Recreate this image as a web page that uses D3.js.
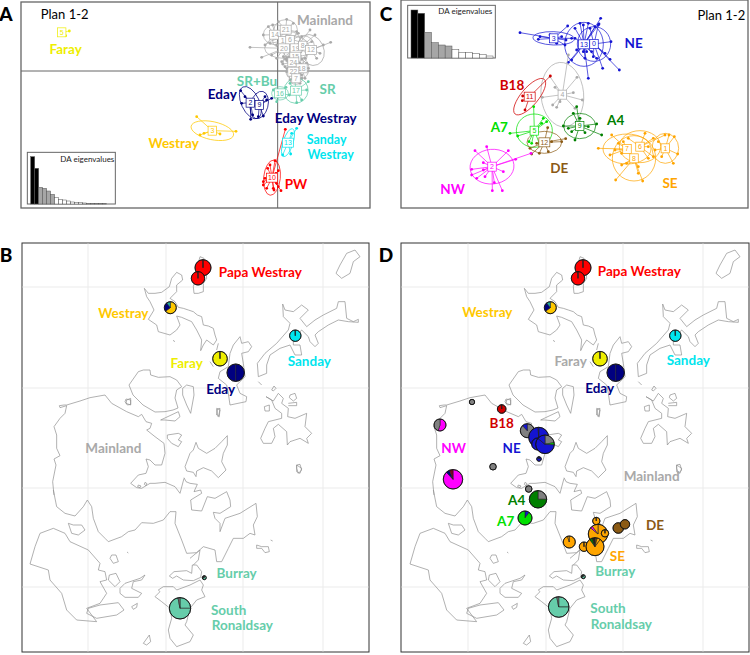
<!DOCTYPE html>
<html><head><meta charset="utf-8">
<script src="https://cdn.jsdelivr.net/npm/d3@7"></script>
<style>html,body{margin:0;padding:0;background:#fff}svg{display:block}text{font-family:Lato,"Open Sans",sans-serif}</style>
</head><body><svg id="c" width="750" height="655"></svg>
<script>
const NAVY="#000080",GOLD="#FFC800",YEL="#EEEE00",CY="#00E5EE",TEAL="#66CDAA",RED="#FF0000",GREY="#A9A9A9",BLUE="#1414D2",DRED="#D00000",LIME="#00E000",GRN="#008000",BRN="#8B5A14",MAG="#FF00FF",ORG="#FFA500",PGREY="#808080";

// ---- DA scatter A: cluster table [name, colour, cx, cy, rx, ry, rotation]
const clustersA=[
["5",YEL,185,97,12,10,0],["14",GREY,825,104,35,30,0],["21",GREY,857,89,35,30,0],["1",GREY,848,123,30,22,0],["6",GREY,870,120,30,25,0],
["20",GREY,852,145,58,30,0],["19",GREY,887,145,40,35,0],["8",GREY,908,137,35,30,0],["12",GREY,933,150,38,48,-25],["15",GREY,886,170,35,25,0],
["24",GREY,880,187,30,30,0],["18",GREY,905,205,22,30,0],["22",GREY,880,215,22,22,0],["7",GREY,888,235,20,18,0],
["16",TEAL,840,280,25,20,0],["17",TEAL,888,272,36,38,25],["2",NAVY,751,308,27,52,-25],["9",NAVY,778,315,26,42,15],
["3",GOLD,637,392,65,27,12],["13",CY,864,428,15,44,18],["10",RED,816,533,25,53,6]];
const pointsA=[
[[208,93],[197,107],[190,97]],
[[805,80],[790,105],[795,135],[818,75]],[[835,65],[860,58],[880,70],[890,95]],[[810,130],[830,135],[868,110]],[[895,100],[880,115]],
[[750,142],[785,172],[815,165],[830,175]],[[905,110],[930,90],[845,185],[860,175]],[[945,105],[935,125],[960,160]],[[992,127],[970,135],[950,175],[915,175]],[[870,195],[900,190],[850,170],[862,182],[905,178]],
[[855,200],[905,225],[880,165],[870,210],[848,192],[858,178],[893,200],[868,172]],[[920,190],[895,210],[915,235],[860,215],[912,200],[925,205],[902,195]],[[875,205],[905,215],[868,225],[862,205],[890,222]],[[900,250],[870,240],[905,235]],
[[820,270],[858,262],[830,305],[868,285]],[[925,245],[905,300],[890,308],[920,270],[870,250],[885,245]],
[[722,272],[758,345],[752,358],[735,290],[725,310]],[[815,295],[790,348],[800,300],[775,350],[795,290]],
[[590,350],[600,405],[612,400],[660,402],[708,394]],[[890,385],[875,400],[858,435],[872,462],[848,465]],
[[856,388],[825,482],[803,505],[810,495],[795,535],[790,545],[800,565],[822,570],[843,572],[830,550],[835,560],[835,512],[790,555],[820,565],[828,520]]];

// ---- DA scatter C
const clustersC=[
["3",BLUE,536,115,62,20,2],["13",BLUE,627,133,58,66,0],["0",BLUE,657,132,50,52,0],["4",GREY,562,284,64,97,-5],["11",DRED,464,290,26,68,40],
["5",LIME,478,392,54,50,0],["12",BRN,508,427,52,33,0],["9",GRN,614,378,48,38,0],["2",MAG,351,500,66,52,-5],
["7",ORG,756,447,72,45,0],["6",ORG,795,440,62,48,0],["8",ORG,777,475,65,68,0],["1",ORG,871,445,40,45,0]];
const pointsC=[
[[435,98],[490,118],[525,105],[560,110],[573,120],[578,78],[545,130],[590,115],[570,135],[495,110]],
[[615,70],[640,70],[660,80],[677,55],[672,72],[625,75],[600,85],[590,180],[605,150],[630,175],[640,235],[625,155],[635,155],[650,155],[665,175],[580,187],[600,115]],
[[733,210],[705,178],[683,205],[708,125],[670,75],[645,85],[655,170],[690,160]],
[[580,165],[606,232],[540,262],[502,292],[595,278],[533,315],[545,322],[555,305],[622,300],[600,325],[525,230]],
[[526,228],[443,288],[442,302],[450,330]],
[[476,320],[505,355],[500,370],[405,400],[428,408],[470,430],[493,430],[515,365],[462,425]],
[[518,383],[465,445],[470,462],[572,416],[560,425],[520,455],[485,430],[530,425],[493,460]],
[[605,320],[565,378],[595,340],[590,395],[600,420],[665,372],[680,405],[640,380],[580,385],[615,355],[630,398]],
[[335,440],[300,452],[400,452],[422,478],[468,460],[385,515],[325,488],[290,508],[290,525],[305,535],[358,548],[352,572],[382,572],[325,510],[330,530]],
[[670,445],[710,405],[745,425],[705,465],[720,450],[740,460],[730,430]],
[[810,400],[835,415],[820,440],[760,415],[870,405],[835,470],[820,475]],
[[722,540],[803,543],[790,520],[790,500],[740,495],[755,490]],
[[882,405],[898,410],[908,462],[895,490],[860,470],[840,450],[850,425]]];

// ---- DA eigenvalues
const eigA=[142,107,50,47,39,29,20,14,12,9,6,4,4,3,2,1,1,1,1];
const eigC=[144,134,77,46,39,36,26,17,17,14,11,6];

// ---- coastline polylines, one list per traced map sheet
const coastN=[
[[433,175],[445,190],[465,190],[485,187],[508,170],[515,145],[530,127],[545,135],[548,150],[530,165],[530,185],[510,205],[525,215],[535,232],[550,235],[565,240],[580,245],[592,255],[605,260],[610,285],[625,288],[640,295],[645,315],[650,330],[640,345],[620,330],[610,345],[602,362],[605,330],[590,300],[575,275],[545,262],[530,258],[540,285],[530,300],[510,315],[475,305],[470,285],[445,268],[462,240],[450,215],[440,200],[433,175]],
[[600,80],[612,85],[618,125],[620,145],[610,160],[610,185],[595,190],[582,190],[580,170],[585,150],[590,120],[600,80]],
[[848,222],[855,240],[880,245],[905,225],[925,240],[900,265],[920,290],[945,270],[970,255],[1010,235],[1015,215],[1035,215],[1040,265],[1060,275],[1075,268],[1075,277],[1045,275],[1015,270],[985,285],[955,305],[945,315],[955,340],[945,350],[930,335],[925,320],[905,300],[880,330],[880,345],[900,345],[905,375],[885,375],[870,345],[840,355],[810,375],[800,405],[800,430],[775,440],[772,400],[795,370],[830,340],[865,300],[870,280],[850,260],[848,222]],
[[720,320],[725,340],[745,335],[755,350],[745,365],[725,370],[730,400],[735,440],[710,465],[720,490],[740,500],[738,515],[690,525],[685,490],[680,465],[655,445],[660,425],[685,410],[690,370],[700,345],[720,320]],
[[415,425],[430,420],[450,420],[452,435],[475,442],[510,440],[530,450],[545,470],[530,480],[525,504],[534,534],[519,540],[495,545],[465,546],[429,525],[399,495],[387,465],[415,425]],
[[380,510],[392,505],[392,525],[378,520],[380,510]],
[[1040,70],[1065,60],[1080,80],[1060,95],[1050,130],[1025,145],[1008,130],[1020,105],[1040,70]],
[[650,535],[660,540],[655,560],[650,555],[650,535]],[[655,340],[650,360]],[[630,395],[640,410]],[[775,455],[785,465]],[[520,330],[524,336]]];
const coastW=[
[[42,330],[38,290],[48,240],[42,222],[60,212],[50,190],[50,150],[42,125],[60,100],[75,85],[80,62],[60,68],[58,62],[72,60],[80,60],[120,48],[150,38],[195,30],[215,55],[260,80],[295,95],[305,88],[318,110],[335,115],[330,130],[320,135],[345,155],[372,175],[375,205],[365,240],[345,240],[330,225],[318,222],[325,245],[318,265],[295,270],[272,295],[290,308],[305,310],[330,295],[345,295],[375,292],[405,305],[420,325],[432,280]],
[[258,42],[272,45],[272,58],[262,60],[255,50],[258,42]],
[[362,105],[415,80],[420,95],[405,108],[375,105],[362,105]],
[[382,150],[415,145],[425,150],[415,165],[425,170],[415,185],[395,175],[382,160],[382,150]],
[[295,300],[303,303],[300,308],[293,305],[295,300]],[[315,292],[321,296],[318,302],[313,298],[315,292]]];
const coastE=[
[[78,172],[85,190],[110,205],[135,190],[155,170],[172,152],[172,180],[160,205],[155,230],[168,255],[145,278],[125,258],[100,248],[80,258],[78,275],[70,262],[50,258],[45,245],[60,205],[70,195],[78,172]],
[[288,35],[310,48],[325,25],[340,40],[335,55],[355,70],[353,95],[375,100],[410,85],[405,125],[425,145],[410,160],[415,175],[390,160],[360,170],[352,180],[350,140],[325,118],[310,130],[315,155],[305,175],[280,175],[272,160],[285,130],[295,110],[335,100],[335,85],[315,70],[305,45],[288,35]],
[[283,65],[298,60],[298,78],[285,78],[283,65]],[[360,30],[375,25],[380,40],[370,48],[358,38],[360,30]],[[355,55],[380,52],[380,62],[355,62]],
[[380,240],[390,238],[395,255],[385,265],[380,250],[380,240]],[[305,15],[312,3],[318,10],[310,18],[305,15]],
[[38,10],[50,0],[70,5],[72,30],[62,85],[50,60],[38,30],[38,10]],[[142,72],[150,70],[148,95],[142,90],[142,72]],
[[42,278],[48,290],[60,295],[82,298],[72,320],[92,315],[95,325],[62,345],[65,375],[95,378],[112,335],[135,340],[170,320],[180,345],[182,365],[150,385],[130,382],[135,400],[150,415],[150,440],[165,400],[210,385],[258,355],[262,395],[250,420],[255,450]]];
const coastSW=[
[[675,135],[660,130],[640,145],[610,145],[595,175],[575,215],[560,215],[555,180],[520,170],[500,188],[470,190],[455,150],[435,100],[438,65],[420,65],[400,90],[370,100],[335,98],[315,120],[295,125],[275,140],[235,155],[225,145],[205,125],[190,85],[185,50],[172,30],[160,50],[135,78],[105,70],[80,50],[70,0]],
[[480,205],[510,180],[505,210],[490,225]],
[[418,258],[432,245],[470,242],[485,250],[487,225],[500,225],[515,245],[512,262],[490,272],[460,270],[440,258],[428,265],[418,258]],
[[385,300],[400,290],[430,290],[440,300],[480,285],[510,270],[520,285],[515,300],[525,320],[500,330],[480,355],[470,395],[465,405],[490,435],[480,455],[440,470],[420,445],[415,420],[425,385],[420,355],[395,335],[375,320],[390,305],[385,300]],
[[0,222],[15,170],[30,130],[70,115],[105,130],[120,155],[175,180],[210,220],[205,240],[225,245],[230,270],[210,275],[230,310],[210,340],[170,355],[200,395],[140,390],[110,360],[95,310],[60,270],[55,240],[0,222]],
[[175,355],[210,345],[265,338],[282,360],[260,375],[200,385],[170,370],[175,355]],
[[115,100],[130,105],[155,105],[165,120],[145,135],[125,130],[115,100]],
[[245,195],[258,195],[265,215],[250,220],[240,205],[245,195]],
[[238,255],[258,250],[270,275],[255,290],[235,270],[238,255]],
[[270,295],[285,280],[330,265],[345,255],[335,270],[310,275],[305,295],[335,310],[325,322],[285,322],[270,310],[270,295]],
[[305,350],[322,340],[320,352],[310,358],[305,350]],[[340,460],[358,435],[362,455],[350,465],[340,460]],[[291,186],[295,189]]];
const coastS=[
[[770,315],[785,320],[805,320],[808,335],[795,338],[785,325],[770,325],[770,315]],[[812,300],[818,303]],
[[890,75],[905,85],[900,100],[890,95],[890,75]]];
const gridXs=[88,166,243,323], gridYs=[287,388,488,587];

// ---- pies: [mapX, mapY, radius], slice values, slice colours
const northPieSites=[[203,267.7,8],[198,278.3,6.7],[170.3,307.7,6],[220,358.7,7.3],[235.7,372.7,8.7],[295.3,335.7,5.7]];
const northPieValues=[[99.5,.5],[99.5,.5],[65,25,10],[99.5,.5],[50,50],[99.5,.5]];
const northPieColours=[[RED,RED],[RED,RED],[GOLD,NAVY,"#20B2AA"],[YEL,YEL],[NAVY,NAVY],[CY,CY]];
const southPieSites=[[204.3,577.7,2],[180,608.3,10.7]];
const southPieValues=[[70,30],[25,72,3]];
const southPieColours=[[TEAL,"#333"],[TEAL,TEAL,PGREY]];
const mainPieSites=[[92,402,2.7],[121.7,409,4.3],[60,425,6],[147.3,430.7,7],[158.7,437.3,10],[157.7,444,6],[165,444.3,9.3],[159,459,2.3],[113,466.7,3.3],[73,479.3,9.7],[148.7,489,3.3],[158,499.3,8.7],[145,518,7],
[216.3,521,3.7],[218,534,9.7],[225,533.3,3.7],[189.3,542,6],[204,546.7,4.7],[215,546.7,9],[238.3,528,5.3],[245,524.3,4.7],[203.3,576.7,2],[178.7,607,10.3]];
const mainPieValues=[[100],[99,1],[55,45],[88,12],[99,1],[20,12,68],[22,4,60,14],[99,1],[100],[88,6,6],[100],[25,75],[10,90],
[99,1],[86,4,10],[99,1],[95,5],[99,1],[4,6,80,5,5],[100],[100],[70,30],[25,72,3]];
const mainPieColours=[[PGREY],[DRED,DRED],[MAG,PGREY],[PGREY,BLUE],[BLUE,BLUE],[BLUE,MAG,BLUE],[PGREY,LIME,BLUE,BLUE],[BLUE,BLUE],[PGREY],[MAG,NAVY,"#800020"],[PGREY],[PGREY,GRN],[BLUE,LIME],
[ORG,ORG],[ORG,MAG,ORG],[ORG,ORG],[ORG,ORG],[ORG,ORG],[BRN,ORG,ORG,GRN,"#222"],[BRN],[BRN],[TEAL,"#333"],[TEAL,TEAL,PGREY]];

// ---- labels [text, x, y, colour] per panel (zoom units)
const labelsA=[["Mainland",975,62,GREY],["Faray",197,147,YEL],["SR+Bu",771,245,TEAL],["SR",983,268,TEAL],["Eday",667,282,NAVY],["Eday Westray",947,355,NAVY],["Westray",521,430,GOLD],["PW",888,552,RED]];
const labelsAtight=[["Sanday",980,419,CY],["Westray",992,464,CY]];
const labelsC=[["NE",776,130,BLUE],["B18",411,255,DRED],["A7",373,382,LIME],["A4",722,362,GRN],["DE",553,506,BRN],["NW",233,567,MAG],["SE",885,550,ORG]];
const labelsBn=[["Papa Westray",781,127,RED],["Westray",370,250,GOLD],["Faray",560,399,YEL],["Eday",662,477,NAVY],["Sanday",928,394,CY]];
const labelsBs=[["Mainland",340,24,GREY],["Burray",710,399,TEAL],["South",686,510,TEAL],["Ronaldsay",727,557,TEAL]];
const labelsDn=[["Papa Westray",733,110,RED],["Westray",277,232,GOLD],["Faray",527,380,GREY],["Eday",614,460,NAVY],["Sanday",880,376,CY]];
const labelsDm=[["B18",350,131,DRED],["NE",380,204,BLUE],["NW",206,206,MAG],["Mainland",800,289,GREY],["A4",395,361,GRN],["A7",362,423,LIME]];
const labelsDs=[["DE",465,137,BRN],["SE",352,229,ORG],["Burray",346,275,TEAL],["South",324,386,TEAL],["Ronaldsay",364,434,TEAL]];
const panelLetters=[["A",6,14],["B",6,255],["C",386,14],["D",386,255]];

// ---------------- drawing
const svg=d3.select("#c");
const sx=o=>d3.scaleLinear().domain([0,1125]).range([o,o+375]);
const sy=o=>d3.scaleLinear().domain([0,645]).range([o,o+215]);
const frame=(x,y,w,h,stroke,sw)=>svg.append("rect").attr("x",x).attr("y",y).attr("width",w).attr("height",h).attr("fill","#fff").attr("stroke",stroke).attr("stroke-width",sw);

function labels(rows,X,Y,size=13.5){
  svg.append("g").selectAll("text").data(rows).join("text")
    .attr("x",d=>X(d[1])).attr("y",d=>Y(d[2])).attr("dy","0.35em").attr("text-anchor","middle")
    .attr("font-size",size).attr("font-weight",700).attr("fill",d=>d[3]).text(d=>d[0]);
}
function scatter(clusters,points,X,Y){
  const g=svg.append("g");
  clusters.forEach((c,i)=>{
    const [name,col,cx,cy,rx,ry,rot]=c;
    const e=g.append("g");
    e.append("ellipse").attr("cx",X(cx)).attr("cy",Y(cy)).attr("rx",X(cx+rx)-X(cx)).attr("ry",Y(cy+ry)-Y(cy))
      .attr("transform",`rotate(${rot} ${X(cx)} ${Y(cy)})`).attr("fill","none").attr("stroke",col).attr("stroke-width",.7);
    e.selectAll("line").data(points[i]).join("line").attr("x1",X(cx)).attr("y1",Y(cy)).attr("x2",d=>X(d[0])).attr("y2",d=>Y(d[1])).attr("stroke",col).attr("stroke-width",.7);
    e.selectAll("circle").data(points[i]).join("circle").attr("cx",d=>X(d[0])).attr("cy",d=>Y(d[1])).attr("r",1.4).attr("fill",col);
  });
  clusters.forEach(c=>{
    const [name,col,cx,cy]=c;
    const w=name.length>1?11:8.5;
    g.append("rect").attr("x",X(cx)-w/2).attr("y",Y(cy)-4.5).attr("width",w).attr("height",9).attr("fill","#fff").attr("stroke",col).attr("stroke-width",.7);
    g.append("text").attr("x",X(cx)).attr("y",Y(cy)).attr("dy","0.35em").attr("text-anchor","middle").attr("font-size",7).attr("fill",col).style("font-family","Liberation Sans").text(name);
  });
}
function inset(vals,X,Y,x0,y1,bw,boxX,boxY,boxW,boxH,lx,ly){
  svg.append("rect").attr("x",X(boxX)).attr("y",Y(boxY)).attr("width",X(boxW)-X(0)).attr("height",Y(boxH)-Y(0)).attr("fill","#fff").attr("stroke","#666").attr("stroke-width",1);
  const b=d3.scaleBand().domain(d3.range(vals.length)).range([X(x0),X(x0+bw*vals.length)]).padding(0);
  const h=d3.scaleLinear().domain([0,1]).range([0,Y(1)-Y(0)]);
  svg.append("g").selectAll("rect").data(vals).join("rect").attr("x",(d,i)=>b(i)).attr("width",b.bandwidth()).attr("y",d=>Y(y1)-h(d)).attr("height",d=>h(d))
    .attr("fill",(d,i)=>i<2?"#000":i<6?"#A6A6A6":"#fff").attr("stroke","#555").attr("stroke-width",.5);
  svg.append("text").attr("x",X(lx)).attr("y",Y(ly)).attr("dy","0.35em").attr("text-anchor","middle").attr("font-size",8).attr("fill","#222").text("DA eigenvalues");
}
const plan=(X,Y,x,y)=>svg.append("text").attr("x",X(x)).attr("y",Y(y)).attr("dy","0.35em").attr("text-anchor","middle").attr("font-size",13).text("Plan 1-2");

// Panel A
frame(21,2,349,206,"#666",1.3);
const Ax=sx(0),Ay=sy(0);
svg.append("line").attr("x1",21).attr("x2",370).attr("y1",Ay(213)).attr("y2",Ay(213)).attr("stroke","#666");
svg.append("line").attr("x1",Ax(833)).attr("x2",Ax(833)).attr("y1",2).attr("y2",208).attr("stroke","#666");
scatter(clustersA,pointsA,Ax,Ay);
inset(eigA,Ax,Ay,92,612,12,82,457,264,155,262,478);
labels(labelsA,Ax,Ay);
labels(labelsAtight,Ax,Ay,12.4);
plan(Ax,Ay,194,43);

// Panel C
frame(401,0,347,208,"#666",1.3);
const Cx=sx(375),Cy=sy(0);
scatter(clustersC,pointsC,Cx,Cy);
inset(eigC,Cx,Cy,108,174,20.5,98,16,263,158,271,35);
labels(labelsC,Cx,Cy);
plan(Cx,Cy,1039,47);

// Map panels B and D
function mapPanel(dx,fx,fw,pies){
  frame(fx,243,fw,409,"#333",1);
  const g=svg.append("g");
  const gx=d3.scaleLinear().domain([0,750]).range([dx,dx+750]);
  g.selectAll(".gv").data(gridXs).join("line").attr("x1",d=>gx(d)).attr("x2",d=>gx(d)).attr("y1",243.5).attr("y2",651.5).attr("stroke","#EBEBEB");
  g.selectAll(".gh").data(gridYs).join("line").attr("y1",d=>d).attr("y2",d=>d).attr("x1",fx+.5).attr("x2",fx+fw-.5).attr("stroke","#EBEBEB");
  [[coastN,0,230],[coastS,0,440],[coastW,40,385],[coastE,170,385],[coastSW,30,490]].forEach(([lines,ox,oy])=>{
    const xs=sx(dx+ox), ys=sy(oy), ln=d3.line().x(d=>xs(d[0])).y(d=>ys(d[1]));
    g.append("g").selectAll("path").data(lines).join("path").attr("d",ln).attr("fill","none").attr("stroke","#8f8f8f").attr("stroke-width",.7);
  });
  const pie=d3.pie().sort(null);
  pies.forEach(([sites,values,colours])=>sites.forEach((s,i)=>{
    const gp=g.append("g").attr("transform",`translate(${gx(s[0])},${s[1]})`);
    const arc=d3.arc().innerRadius(0).outerRadius(s[2]);
    gp.selectAll("path").data(pie(values[i])).join("path").attr("d",arc).attr("fill",(d,j)=>colours[i][j]).attr("stroke","#222").attr("stroke-width",.6);
    gp.append("circle").attr("r",s[2]).attr("fill","none").attr("stroke","#111").attr("stroke-width",.9);
  }));
}
mapPanel(0,22,347,[[northPieSites,northPieValues,northPieColours],[southPieSites,southPieValues,southPieColours]]);
mapPanel(380,401,348,[[northPieSites,northPieValues,northPieColours],[mainPieSites,mainPieValues,mainPieColours]]);
labels(labelsBn,sx(0),sy(230));
labels(labelsBs,sx(0),sy(440));
labels(labelsDn,sx(395),sy(235));
labels(labelsDm,sx(385),sy(380));
labels(labelsDs,sx(500),sy(480));

svg.append("g").selectAll("text").data(panelLetters).join("text").attr("x",d=>d[1]).attr("y",d=>d[2]).attr("dy","0.35em").attr("text-anchor","middle")
  .attr("font-size",19).attr("font-weight",900).attr("fill","#000").text(d=>d[0]);
</script></body></html>
